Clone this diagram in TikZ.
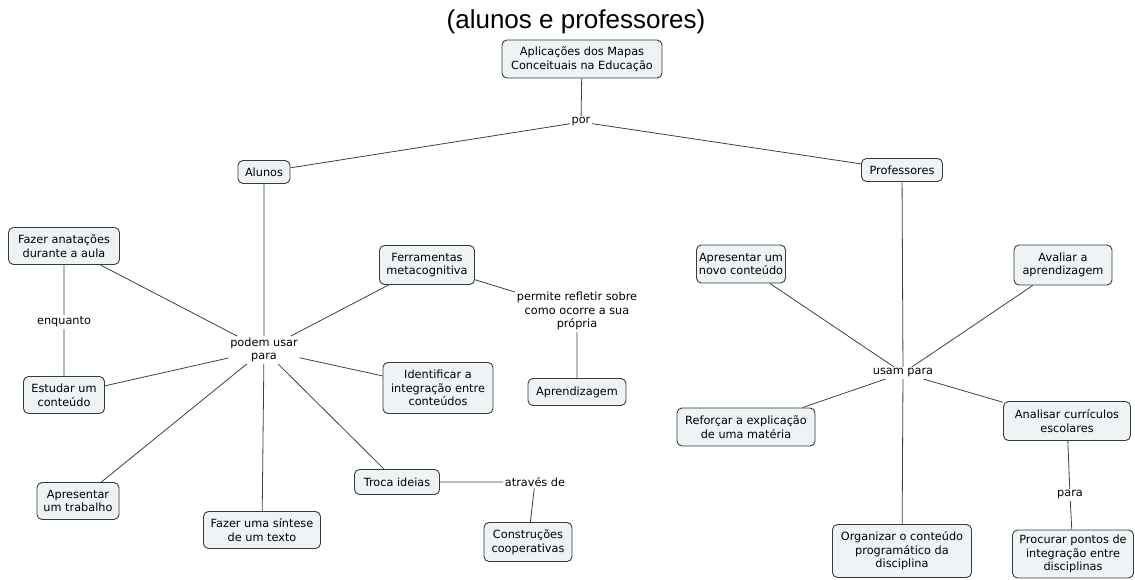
\documentclass[tikz,border=0pt]{standalone}
\usepackage{fontspec}
\setmainfont{DejaVu Sans}
\newfontfamily\titlefont{Liberation Sans}
\definecolor{boxfill}{HTML}{EEF3F6}
\definecolor{boxline}{HTML}{3A3A3A}
\definecolor{conn}{HTML}{404040}
\begin{document}
\begin{tikzpicture}[x=1pt,y=-1pt,
  concept/.style={draw=boxline,fill=boxfill,rounded corners=5pt,line width=0.9pt,align=center,
    font=\fontsize{11.3}{13.6}\selectfont,inner sep=1.5pt},
  linkph/.style={align=center,font=\fontsize{11.3}{13.6}\selectfont,inner sep=1.5pt},
  conline/.style={draw=conn,line width=0.8pt}]
\useasboundingbox (0,0) rectangle (1135,580);
\node[font=\titlefont\fontsize{26}{29}\selectfont] (title) at (576,22) {(alunos e professores)};
\node[concept,minimum width=160,minimum height=38] (root) at (582,59) {Aplicações dos Mapas\\Conceituais na Educação};
\node[linkph] (por) at (581,122) {por};
\node[concept,minimum width=52,minimum height=23] (alunos) at (264,172) {Alunos};
\node[concept,minimum width=81,minimum height=23] (prof) at (902,170) {Professores};
\node[linkph] (podem) at (264,350) {podem usar\\para};
\node[concept,minimum width=111,minimum height=37] (fazer) at (64,246) {Fazer anatações\\durante a aula};
\node[linkph] (enq) at (64,322) {enquanto};
\node[concept,minimum width=81,minimum height=37] (estudar) at (64,395) {Estudar um\\conteúdo};
\node[concept,minimum width=95,minimum height=39] (ferr) at (427,265) {Ferramentas\\metacognitiva};
\node[linkph] (perm) at (577,311) {permite refletir sobre\\como ocorre a sua\\própria};
\node[concept,minimum width=98,minimum height=27] (aprend) at (577,392) {Aprendizagem};
\node[concept,minimum width=110,minimum height=51] (ident) at (438,388) {Identificar a\\integração entre\\conteúdos};
\node[concept,minimum width=82,minimum height=37] (apres) at (78,501) {Apresentar\\um trabalho};
\node[concept,minimum width=117,minimum height=37] (sintese) at (262,530) {Fazer uma síntese\\de um texto};
\node[concept,minimum width=85,minimum height=25] (troca) at (397,482) {Troca ideias};
\node[linkph] (atraves) at (535,482) {através de};
\node[concept,minimum width=88,minimum height=39] (constr) at (528,542) {Construções\\cooperativas};
\node[linkph] (usam) at (903,373) {usam para};
\node[concept,minimum width=89,minimum height=38] (novo) at (741,264) {Apresentar um\\novo conteúdo};
\node[concept,minimum width=98,minimum height=40] (avaliar) at (1063,265) {Avaliar a\\aprendizagem};
\node[concept,minimum width=138,minimum height=38] (reforcar) at (746,427) {Reforçar a explicação\\de uma matéria};
\node[concept,minimum width=127,minimum height=39] (analisar) at (1067,421) {Analisar currículos\\escolares};
\node[linkph] (para) at (1070,495) {para};
\node[concept,minimum width=121,minimum height=48] (procurar) at (1073,554) {Procurar pontos de\\integração entre\\disciplinas};
\node[concept,minimum width=139,minimum height=53] (organizar) at (902,551) {Organizar o conteúdo\\programático da\\disciplina};
\path[conline] (root) -- (por) (por) -- (alunos) (por) -- (prof)
  (alunos) -- (podem) (podem) -- (fazer) (podem) -- (estudar) (podem) -- (ferr)
  (podem) -- (ident) (podem) -- (apres) (podem) -- (sintese) (podem) -- (troca)
  (fazer) -- (enq) (enq) -- (estudar) (ferr) -- (perm) (perm) -- (aprend)
  (troca) -- (atraves) (atraves) -- (constr)
  (prof) -- (usam) (usam) -- (novo) (usam) -- (avaliar) (usam) -- (reforcar)
  (usam) -- (analisar) (usam) -- (organizar) (analisar) -- (para) (para) -- (procurar);
\end{tikzpicture}
\end{document}
